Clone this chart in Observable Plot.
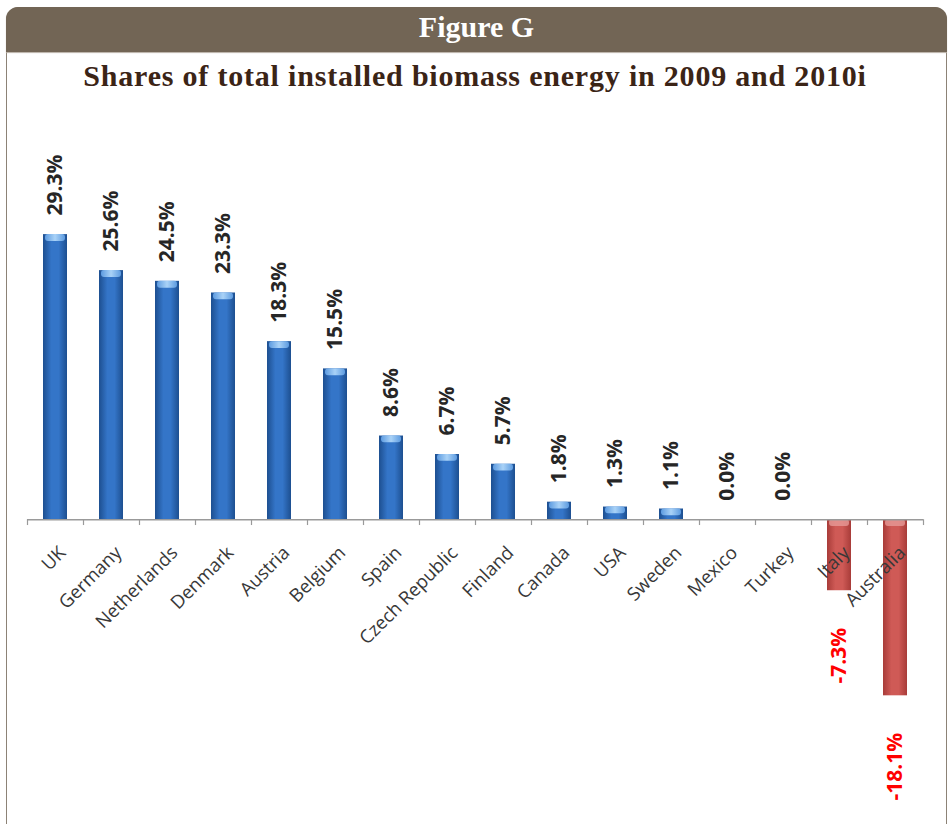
<!DOCTYPE html>
<html>
<head>
<meta charset="utf-8">
<script src="https://cdn.jsdelivr.net/npm/d3@7"></script>
<script src="https://cdn.jsdelivr.net/npm/@observablehq/plot@0.6"></script>
<style>
  body { margin: 0; background: #fff; width: 950px; height: 824px; overflow: hidden; position: relative; }
  #chart { position: absolute; left: 0; top: 110px; }
  #frame { position: absolute; left: 6px; top: 7px; width: 941px; height: 840px; box-sizing: border-box;
           border: 1.5px solid #8c8276; border-radius: 12px; }
  #hdr { position: absolute; left: 6px; top: 7px; width: 941px; height: 45px; background: #726555;
         border-radius: 12px 12px 0 0; box-shadow: 0 1px 1px #b8b0a6; }
  #hdrText { position: absolute; left: 6px; width: 941px; top: 12px; text-align: center; color: #fff;
             font-family: "Liberation Serif", "Times New Roman", serif; font-weight: bold; font-size: 30px; line-height: 30px; }
  #title { position: absolute; left: 0; width: 950px; top: 61px; text-align: center; color: #3b2416;
           font-family: "Liberation Serif", "Times New Roman", serif; font-weight: bold; font-size: 30px;
           line-height: 30px; letter-spacing: 0.8px; }
</style>
</head>
<body>
<div id="chart"></div>
<div id="frame"></div>
<div id="hdr"></div>
<div id="hdrText">Figure G</div>
<div id="title">Shares of total installed biomass energy in 2009 and 2010i</div>
<script>
const countries = ["UK","Germany","Netherlands","Denmark","Austria","Belgium","Spain","Czech Republic","Finland","Canada","USA","Sweden","Mexico","Turkey","Italy","Australia"];
const shares = [29.3, 25.6, 24.5, 23.3, 18.3, 15.5, 8.6, 6.7, 5.7, 1.8, 1.3, 1.1, 0.0, 0.0, -7.3, -18.1];

const data = countries.map((c, i) => ({country: c, share: shares[i]}));
const pos = data.filter(d => d.share >= 0);
const neg = data.filter(d => d.share < 0);

const W = 950, H = 712, mL = 27, mR = 27, mT = 20, mB = 10.9;
const pIn = 0.5714, pOut = pIn / 2;
const step = (W - mL - mR) / (countries.length - pIn + 2 * pOut);
const fmt = v => v.toFixed(1) + "%";

const chart = Plot.plot({
  width: W, height: H,
  marginLeft: mL, marginRight: mR, marginTop: mT, marginBottom: mB,
  style: {background: "transparent", overflow: "visible"},
  x: {domain: countries, axis: null, paddingInner: pIn, paddingOuter: pOut},
  y: {domain: [-30, 40], axis: null},
  marks: [
    Plot.barY(pos, {x: "country", y: "share", fill: "url(#gBlue)"}),
    Plot.barY(neg, {x: "country", y: "share", fill: "url(#gRed)"}),
    Plot.barY(pos.filter(d => d.share > 0), {x: "country", y1: "share", y2: d => d.share - 0.7, fill: "url(#gCap)", insetLeft: 2, insetRight: 2, rx: 3}),
    Plot.barY(neg, {x: "country", y1: 0, y2: -0.7, fill: "#e69a97", insetLeft: 2, insetRight: 2, rx: 3, fillOpacity: 0.8}),
    Plot.ruleY([0], {stroke: "#9a9a9a", strokeWidth: 1.5}),
    Plot.ruleX(data, {x: "country", y1: 0, y2: -0.6, dx: -step / 2, stroke: "#9a9a9a", strokeWidth: 1.2}),
    Plot.ruleX(data.slice(-1), {x: "country", y1: 0, y2: -0.6, dx: step / 2, stroke: "#9a9a9a", strokeWidth: 1.2}),
    Plot.text(pos, {x: "country", y: "share", text: d => fmt(d.share), rotate: -90, textAnchor: "start",
      lineAnchor: "middle", dy: -19, fill: "#262626", fontWeight: "bold", fontSize: 21, fontFamily: "Open Sans"}),
    Plot.text(neg, {x: "country", y: "share", text: d => fmt(d.share), rotate: -90, textAnchor: "end",
      lineAnchor: "middle", dy: 37, fill: "#ff0000", fontWeight: "bold", fontSize: 21, fontFamily: "Open Sans"}),
    Plot.text(data, {x: "country", y: () => 0, text: "country", rotate: -45, textAnchor: "end",
      lineAnchor: "middle", dx: 7, dy: 30, fill: "#383838", fontSize: 18.5, fontFamily: "Open Sans"})
  ]
});

const defs = d3.select(chart).insert("defs", ":first-child");
function grad(id, stops, vertical) {
  const g = defs.append("linearGradient").attr("id", id)
    .attr("x1", 0).attr("y1", 0).attr("x2", vertical ? 0 : 1).attr("y2", vertical ? 1 : 0);
  stops.forEach(([o, c]) => g.append("stop").attr("offset", o).attr("stop-color", c));
}
grad("gBlue", [[0, "#1d4f90"], [0.35, "#3475c8"], [0.65, "#3475c8"], [1, "#1d4f90"]]);
grad("gRed", [[0, "#a83c39"], [0.35, "#cf5a56"], [0.65, "#cf5a56"], [1, "#a83c39"]]);
grad("gCap", [[0, "#5d9be0"], [0.5, "#a9d2f7"], [1, "#5d9be0"]]);

document.getElementById("chart").appendChild(chart);
</script>
</body>
</html>
